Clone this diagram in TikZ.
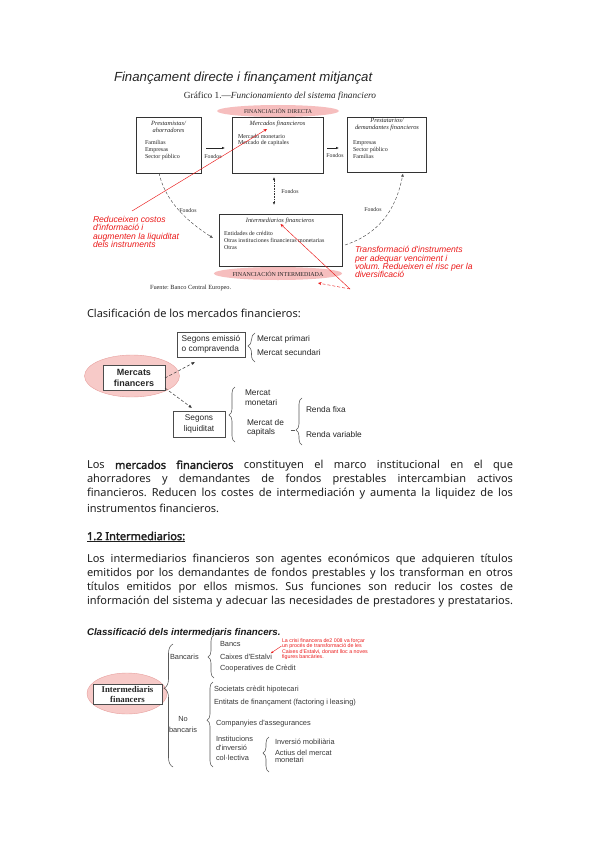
\documentclass[tikz,border=0pt]{standalone}
\usepackage{fontspec}
\setmainfont{Noto Sans}
\newfontfamily\bodyf{Noto Sans}[AutoFakeBold=2.2]
\newfontfamily\arialf{Liberation Sans}
\newfontfamily\timesf{Liberation Serif}
\usetikzlibrary{decorations.pathreplacing,arrows.meta,shapes.geometric,shadows}
\definecolor{pinkA}{RGB}{246,190,190}
\definecolor{pinkB}{RGB}{247,202,200}
\definecolor{pinkE}{RGB}{232,160,158}
\definecolor{redann}{RGB}{235,25,25}
\frenchspacing
\newcommand\jline[1]{\makebox[426pt][s]{\spaceskip=0.26em plus 1em minus 0.18em\relax #1}}
\tikzset{
  fbox/.style={draw=black!80, line width=0.6pt, fill=white},
  ts/.style={font=\timesf\fontsize{6}{7}\selectfont, text=black!85, align=left},
  tsi/.style={font=\timesf\itshape\fontsize{6.4}{7}\selectfont, text=black!85, align=center},
  barr/.style={-{Latex[length=3pt,width=2.6pt]}, line width=0.6pt, black!85},
  carr/.style={-{Latex[length=3.2pt,width=2.8pt]}, line width=0.45pt, black!70, densely dashed},
  rtxt/.style={font=\arialf\itshape\fontsize{8.6}{8.2}\selectfont, text=redann, align=left, anchor=west},
  rarr/.style={-{Stealth[length=3.5pt,width=3pt]}, redann, line width=0.45pt},
  mt/.style={font=\arialf\fontsize{8.3}{9.5}\selectfont, text=black!85, anchor=west, align=left},
  sbox/.style={draw=black!70, line width=0.5pt, fill=white, drop shadow={shadow xshift=1.2pt, shadow yshift=-1.2pt, fill=black!55, opacity=0.8}},
  darr/.style={-{Latex[length=3.5pt,width=3pt]}, densely dashed, line width=0.5pt, black!80},
  brc/.style={decorate, draw=black!65, line width=0.55pt},
  body/.style={anchor=west, font=\bodyf\fontsize{11}{14}\selectfont, text=black!88},
  bt/.style={font=\arialf\fontsize{7.4}{9.5}\selectfont, text=black!78, anchor=west, align=left},
}
\begin{document}
\begin{tikzpicture}[x=1pt,y=-1pt, every node/.style={inner sep=0pt, outer sep=0pt}]
\useasboundingbox (0,0) rectangle (599,848);
\fill[white] (0,0) rectangle (599,848);

% ---------------- top figure ----------------
\node[anchor=west, font=\arialf\itshape\fontsize{13.2}{15}\selectfont, text=black!85] (title) at (114,78) {Finançament directe i finançament mitjançat};
\node[font=\timesf\fontsize{9.3}{10}\selectfont, text=black!85] (graf) at (280,96) {Gráfico 1.—\textit{Funcionamiento del sistema financiero}};

\node[fbox, minimum width=65pt, minimum height=56pt] (lbox) at (168.5,145) {};
\node[fbox, minimum width=91pt, minimum height=56pt] (mbox) at (277.5,145) {};
\node[fbox, minimum width=79pt, minimum height=55pt] (rbox) at (386.5,144.5) {};
\node[fbox, minimum width=123pt, minimum height=52pt] (ibox) at (280.5,240) {};

\node[ellipse, fill=pinkA, minimum width=122pt, minimum height=12pt, font=\timesf\fontsize{5.8}{6}\selectfont, text=black!85] (e1) at (278,111) {FINANCIACIÓN DIRECTA};
\node[ellipse, fill=pinkA, minimum width=122pt, minimum height=13pt, font=\timesf\fontsize{6}{6}\selectfont, text=black!85] (e2) at (278,273.5) {FINANCIACIÓN INTERMEDIADA};

\node[tsi] (lt) at (168.5,126.5) {Prestamistas/\\ahorradores};
\node[ts, anchor=west] (li) at (145,150) {Familias\\Empresas\\Sector público};
\node[tsi] (mt1) at (277.5,124) {Mercados financieros};
\node[ts, anchor=west, font=\timesf\fontsize{6}{6}\selectfont] (mi) at (238,140) {Mercado monetario\\Mercado de capitales};
\node[tsi] (rt) at (387,125) {Prestatarios/\\demandantes financieros};
\node[ts, anchor=west] (ri) at (353,149.5) {Empresas\\Sector público\\Familias};
\node[tsi] (it) at (280,220.5) {Intermediarios financieros};
\node[ts, anchor=west] (ii) at (224,240) {Entidades de crédito\\Otras instituciones financieras monetarias\\Otras};
\node[ts, anchor=west, font=\timesf\fontsize{6.3}{7}\selectfont] (fu) at (150,288) {Fuente: Banco Central Europeo.};

\node[ts, font=\timesf\fontsize{5.8}{6}\selectfont] (f1) at (213,157) {Fondos};
\node[ts, font=\timesf\fontsize{5.8}{6}\selectfont] (f2) at (335,156) {Fondos};
\node[ts, font=\timesf\fontsize{5.8}{6}\selectfont] (f3) at (290,192) {Fondos};
\node[ts, font=\timesf\fontsize{5.8}{6}\selectfont] (f4) at (188,211) {Fondos};
\node[ts, font=\timesf\fontsize{5.8}{6}\selectfont] (f5) at (373,210) {Fondos};

\draw[barr] ([xshift=5pt,yshift=-3pt]lbox.east) -- ([xshift=-7pt,yshift=-3pt]mbox.west);
\draw[barr] ([xshift=4pt,yshift=-3pt]mbox.east) -- ([xshift=-8pt,yshift=-3.5pt]rbox.west);
\draw[{Latex[length=3pt,width=2.6pt]}-{Latex[length=3pt,width=2.6pt]}, densely dotted, line width=0.6pt, black!80] ([xshift=-3.5pt,yshift=-4pt]mbox.south) -- ([xshift=-6.5pt,yshift=9pt]ibox.north);
\draw[carr] ([xshift=-9.5pt]lbox.south) .. controls +(6,27) and +(-28,-18) .. ([xshift=-6pt,yshift=2pt]ibox.west);
\draw[carr] ([xshift=3pt,yshift=-5pt]ibox.east) .. controls +(30,-10) and +(-8,41) .. ([xshift=16.5pt,yshift=-1.5pt]rbox.south);

\node[rtxt] (redL) at (93,232) {Reduceixen costos\\d'informació i\\augmenten la liquiditat\\dels instruments};
\node[rtxt] (redR) at (355,262) {Transformació d'instruments\\per adequar venciment i\\volum. Redueixen el risc per la\\diversificació};
\coordinate (rl) at (132,211);
\coordinate (rr) at (350,289);
\draw[rarr] (rl) -- ([xshift=-10.5pt,yshift=16pt]mbox.center);
\draw[rarr] (rr) -- ([yshift=16pt]ibox.center);
\draw[rarr, densely dashed] (rr) -- ([xshift=40pt,yshift=-9.5pt]e2.center);

% ---------------- markets diagram ----------------
\node[body] (cl) at (87,313) {Clasificación de los mercados financieros:};

\node[ellipse, fill=pinkB, draw=pinkE, line width=0.4pt, minimum width=95pt, minimum height=42pt] (me) at (132,376) {};
\node[sbox, minimum width=62pt, minimum height=25pt, align=center, font=\arialf\bfseries\fontsize{9}{11}\selectfont, text=black!85] (mf) at (134,377.5) {Mercats\\financers};
\node[sbox, minimum width=68pt, minimum height=25pt, align=left, font=\arialf\fontsize{8.3}{10.5}\selectfont, text=black!85] (se) at (211,344.5) {Segons emissió\\o compravenda};
\node[sbox, minimum width=52pt, minimum height=26pt, align=center, font=\arialf\fontsize{8.3}{10.5}\selectfont, text=black!85] (sl) at (199,424) {Segons\\liquiditat};

\draw[darr] ([yshift=-0.5pt]mf.east) -- ([xshift=18pt,yshift=-5pt]se.south west);
\draw[darr] ([yshift=-10.5pt]mf.east) -- ([xshift=19pt,yshift=3pt]sl.north west);

\node[mt] (mp) at (257,339) {Mercat primari};
\node[mt] (ms) at (257,353) {Mercat secundari};
\node[mt] (mm) at (245,397.5) {Mercat\\monetari};
\node[mt] (mc) at (247,428) {Mercat de\\capitals};
\node[mt] (rf) at (306,410) {Renda fixa};
\node[mt] (rv) at (306,435) {Renda variable};

\draw[brc, decoration={brace, amplitude=7pt, aspect=0.55}] (255,362) -- (255,333);
\draw[brc, decoration={brace, amplitude=6pt, aspect=0.49}] (235,442) -- (235,387);
\draw[brc, decoration={brace, amplitude=6pt, aspect=0.32}] (302,445) -- (302,398);
\coordinate (d1) at (290.5,430.5);
\coordinate (d2) at (295,430.5);
\draw[black!65, line width=0.55pt] (d1) -- (d2);

% ---------------- body text ----------------
\node[body] (p1a) at (87,466) {\jline{Los \textbf{mercados financieros} constituyen el marco institucional en el que}};
\node[body] (p1b) at (87,480) {\jline{ahorradores y demandantes de fondos prestables intercambian activos}};
\node[body] (p1c) at (87,494) {\jline{financieros. Reducen los costes de intermediación y aumenta la liquidez de los}};
\node[body] (p1d) at (87,508.5) {instrumentos financieros.};
\node[body] (h12) at (87,537) {\textbf{\underline{1.2 Intermediarios:}}};
\node[body] (p2a) at (87,560) {\jline{Los intermediarios financieros son agentes económicos que adquieren títulos}};
\node[body] (p2b) at (87,574) {\jline{emitidos por los demandantes de fondos prestables y los transforman en otros}};
\node[body] (p2c) at (87,588) {\jline{títulos emitidos por ellos mismos. Sus funciones son reducir los costes de}};
\node[body] (p2d) at (87,602) {\jline{información del sistema y adecuar las necesidades de prestadores y prestatarios.}};

% ---------------- intermediaries diagram ----------------
\node[anchor=west, font=\arialf\bfseries\itshape\fontsize{9.7}{11}\selectfont, text=black!90] (ct) at (87,632) {Classificació dels intermediaris financers.};

\node[ellipse, fill=pinkB, draw=pinkE, line width=0.4pt, minimum width=80pt, minimum height=41pt] (ie) at (127,693.5) {};
\node[draw=black!70, line width=0.5pt, fill=white, minimum width=69pt, minimum height=20pt, align=center, font=\timesf\bfseries\fontsize{8.8}{10}\selectfont, text=black!85] (ib) at (127.5,694) {Intermediaris\\financers};

\node[bt] (ba) at (170,657) {Bancaris};
\node[bt, anchor=center, align=center, font=\arialf\fontsize{7.4}{11}\selectfont] (nb) at (183,724.5) {No\\bancaris};
\node[bt] (bs) at (220,644) {Bancs};
\node[bt] (ce) at (220,657) {Caixes d'Estalvi};
\node[bt] (co) at (220,669) {Cooperatives de Crèdit};
\node[bt] (sh) at (214,690) {Societats crèdit hipotecari};
\node[bt] (ef) at (214,702.5) {Entitats de finançament (factoring i leasing)};
\node[bt] (ca) at (216,724) {Companyies d'assegurances};
\node[bt] (ic) at (216,748) {Institucions\\d'inversió\\col·lectiva};
\node[bt] (im) at (275,742) {Inversió mobiliària};
\node[bt, font=\arialf\fontsize{7.4}{7.4}\selectfont] (am) at (275,756.5) {Actius del mercat\\monetari};

\node[anchor=west, align=left, font=\arialf\fontsize{5.3}{5.4}\selectfont, text=redann] (rc) at (282,649) {La crisi financera de2 008 va forçar\\un procés de transformació de les\\Caixes d'Estalvi, donant lloc a noves\\figures bancàries.};
\draw[-{Stealth[length=2.5pt,width=2.2pt]}, redann, line width=0.4pt] ([xshift=-0.5pt,yshift=3pt]rc.west) -- ([xshift=-1pt,yshift=4pt]ce.east);

\draw[brc, decoration={brace, amplitude=9pt, aspect=0.64}] (173,767) -- (173,644);
\draw[brc, decoration={brace, amplitude=6pt, aspect=0.49}] (214,678) -- (214,635);
\draw[brc, decoration={brace, amplitude=6pt, aspect=0.55}] (213,767) -- (213,682);
\draw[brc, decoration={brace, amplitude=6pt, aspect=0.54}] (269,772) -- (269,737);
\end{tikzpicture}
\end{document}
